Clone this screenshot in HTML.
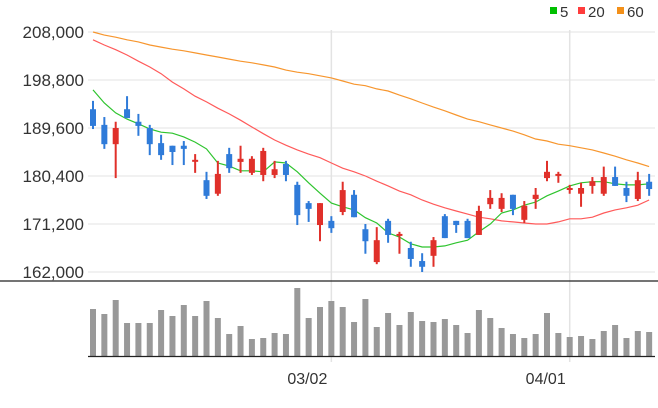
<!DOCTYPE html>
<html><head><meta charset="utf-8"><style>
body{margin:0;background:#fff;}
svg{display:block;font-family:"Liberation Sans",sans-serif;}
</style></head><body>
<svg id="chart" width="658" height="408">
<g id="grid"></g>
<g id="vol"></g>
<g id="ma"></g>
<g id="candles"></g>
<g id="axes"></g>
<g>
<rect x="550" y="7" width="7" height="7" fill="#00c000"/>
<text x="560" y="17" font-size="15" fill="#333">5</text>
<rect x="578" y="7" width="7" height="7" fill="#ff3c3c"/>
<text x="588" y="17" font-size="15" fill="#333">20</text>
<rect x="617" y="7" width="7" height="7" fill="#f39019"/>
<text x="627" y="17" font-size="15" fill="#333">60</text>
</g>
</svg>
<script>
const openP=[193200,190200,186500,193200,190800,189600,186700,186200,186200,183300,179600,177000,184600,183100,181000,180600,180600,182700,178700,175200,171000,171800,173500,176800,170200,163900,171800,169100,166600,164100,165100,172700,171800,171800,169100,175000,174100,176800,172000,176000,180000,180600,177900,177000,178500,177000,180200,178100,176000,179300];
const highP=[194800,191700,190800,195700,192300,190200,188300,186200,187100,184600,181200,183300,185800,186200,184200,185800,183300,183300,179300,175600,175200,172700,179300,177700,171200,170600,172200,169700,167800,165600,168700,173100,171800,172200,174700,177700,177100,176800,175600,178100,183300,181200,178700,179100,180200,182200,182200,179300,181200,180800];
const lowP=[189400,185600,180000,191500,188100,184400,183500,182500,182500,181000,176000,176600,181000,181000,180600,179400,180000,179400,171000,171600,167900,169500,172900,172500,165500,163500,167600,165500,163000,162000,163000,168500,169500,168500,169100,174100,173500,172900,171400,174100,179400,179100,177000,174500,177000,176600,178500,175400,175600,176600];
const closeP=[190000,186500,189600,191500,190000,186500,184400,185000,185600,183500,176600,180800,181900,183700,183700,185200,181700,180600,172900,174100,175200,170400,177700,172500,167900,168100,169100,169300,164500,163000,168100,168500,171000,168500,173700,176200,176200,174100,174700,176800,181200,180800,178100,178100,179400,180200,178500,176600,179600,177900];
const ma5=[196900,194400,192500,191300,190400,189400,188800,188600,187900,186900,185600,182900,182300,181400,181400,181200,183100,182900,181200,179100,177100,175200,174500,173900,172400,171400,169500,168700,167400,166800,166800,167000,167600,168100,169700,171200,173300,173900,174800,175400,176600,177500,178500,179100,179300,179300,178900,178700,178700,178900];
const ma20=[206500,205500,204600,203600,202400,201300,200000,198400,197100,195700,194600,193400,192300,191100,189800,188500,187300,186300,185400,184600,183900,182900,181900,181200,180400,179400,178500,177500,176800,175800,175000,174300,173700,173100,172500,172200,171800,171600,171400,171200,171200,171600,172200,172200,172500,173300,173900,174300,174800,175800];
const ma60=[208000,207400,207000,206500,206100,205500,205100,204700,204400,204000,203600,203200,202800,202400,202100,201700,201300,200700,200300,200000,199600,199200,198600,198000,197700,197100,196700,195900,195200,194400,193600,192900,192100,191300,190800,190200,189600,189000,188300,187500,187100,186500,186200,185800,185400,184800,184200,183500,182900,182200];
const volume=[47,42,56,33,33,33,46,40,51,40,55,38,22,30,17,18,23,22,68,38,49,55,49,34,57,29,43,31,44,35,34,37,31,23,46,38,28,22,18,22,43,23,19,20,17,25,31,18,25,24];
const yTicks=[208000,198800,189600,180400,171200,162000];
const xLabels=[{i:21,t:"03/02"},{i:42,t:"04/01"}];

const NS="http://www.w3.org/2000/svg";
const X0=93,DX=11.35;
const PMAX=208000,PMIN=162000,YT=32,YB=272;
const VB=356,VH=75,VMAX=75;
function xs(i){return X0+i*DX;}
function ys(p){return YT+(PMAX-p)/(PMAX-PMIN)*(YB-YT);}
function yv(v){return VB-v/VMAX*VH;}
function mk(tag,attrs,parent){const e=document.createElementNS(NS,tag);for(const k in attrs)e.setAttribute(k,attrs[k]);parent.appendChild(e);return e;}
const grid=document.getElementById('grid'),axes=document.getElementById('axes');
yTicks.forEach(function(t){
  const g=mk('line',{x1:88,x2:655,y1:ys(t),y2:ys(t),stroke:'#e3e3e3','stroke-width':1},grid);
  
  
  const tx=mk('text',{x:84,y:ys(t)+6,'text-anchor':'end','font-size':17,fill:'#333'},axes);
  tx.textContent=t.toLocaleString('en-US');
  
  
});
xLabels.forEach(function(l){
  const vl=mk('line',{x1:xs(l.i),x2:xs(l.i),y1:YT-2,y2:362,stroke:'#e3e3e3','stroke-width':1.5},grid);
  
  
  const tx=mk('text',{x:xs(l.i)-24,y:384,'text-anchor':'middle','font-size':16,fill:'#333'},axes);
  tx.textContent=l.t;
  
  
});
const l1=mk('line',{x1:0,x2:658,y1:281,y2:281,stroke:'#222','stroke-width':1.2},axes);


const l2=mk('line',{x1:88,x2:655,y1:356.5,y2:356.5,stroke:'#222','stroke-width':1.2},axes);


const vol=document.getElementById('vol');
volume.forEach(function(v,i){
  const r=mk('rect',{x:xs(i)-3,y:yv(v),width:6,height:VB-yv(v),fill:'#999'},vol);
  
  
});
const ma=document.getElementById('ma');
[[ma60,'#f7962e','ma60-line'],[ma20,'#ff5a5a','ma20-line'],[ma5,'#2ec42e','ma5-line']].forEach(function(s){
  const pts=s[0].map(function(p,i){return xs(i).toFixed(1)+','+ys(p).toFixed(1);}).join(' ');
  const pl=mk('polyline',{points:pts,fill:'none',stroke:s[1],'stroke-width':1.2},ma);
  
  
});
const cg=document.getElementById('candles');
openP.forEach(function(o,i){
  const c=closeP[i];const col=c>=o?'#e0302a':'#2f7bd9';
  const w=mk('rect',{x:xs(i)-1,y:ys(highP[i]),width:2,height:ys(lowP[i])-ys(highP[i]),fill:col},cg);
  
  
  const top=ys(Math.max(o,c)),bot=ys(Math.min(o,c));
  const b=mk('rect',{x:xs(i)-3,y:top,width:6,height:Math.max(2,bot-top),fill:col},cg);
  
  
});
</script>
</body></html>
